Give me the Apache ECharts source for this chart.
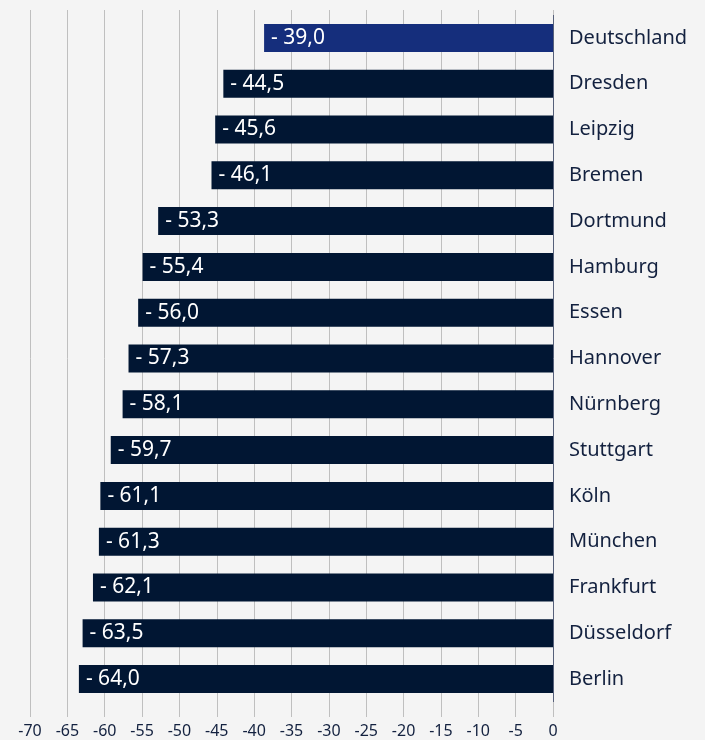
<!DOCTYPE html>
<html>
<head>
<meta charset="utf-8">
<script src="https://cdn.jsdelivr.net/npm/echarts@6/dist/echarts.min.js"></script>
<style>
  html, body { margin: 0; padding: 0; background: #f4f4f4; }
  #chart { width: 705px; height: 740px; }
</style>
</head>
<body>
<div id="chart"></div>
<script>
// data
var cities = ['Deutschland', 'Dresden', 'Leipzig', 'Bremen', 'Dortmund', 'Hamburg', 'Essen', 'Hannover',
  'Nürnberg', 'Stuttgart', 'Köln', 'München', 'Frankfurt', 'Düsseldorf', 'Berlin'];
var values = [-39.0, -44.5, -45.6, -46.1, -53.3, -55.4, -56.0, -57.3, -58.1, -59.7, -61.1, -61.3, -62.1, -63.5, -64.0];
var xMin = -70;
var xMax = 0;
var xStep = 5;
// the bars in the original run on a slightly compressed scale vs. the gridlines
var barMin = -70.6;

var navy = '#011633';
var gridGrey = '#bfbfbf';
var textColor = '#13213f';
var font = '"Noto Sans", sans-serif';

function fmtValue(v) {
  return '- ' + Math.abs(v).toFixed(1).replace('.', ',');
}

var chart = echarts.init(document.getElementById('chart'));

var barData = values.map(function (v, i) {
  return {
    value: v,
    itemStyle: { color: i === 0 ? '#152e7c' : navy }
  };
});

var option = {
  backgroundColor: '#f4f4f4',
  animation: false,
  textStyle: { fontFamily: font },
  grid: { left: 30, right: 152, top: 15, bottom: 38 },
  xAxis: [
    {
      type: 'value',
      position: 'bottom',
      min: xMin, max: xMax, interval: xStep,
      axisLine: { show: false },
      axisTick: { show: true, length: 15, lineStyle: { color: gridGrey } },
      splitLine: { show: true, lineStyle: { color: gridGrey, width: 1 } },
      axisLabel: { color: textColor, fontSize: 16, margin: 21, fontFamily: font }
    },
    {
      type: 'value',
      position: 'top',
      min: xMin, max: xMax, interval: xStep,
      axisLine: { show: false },
      axisTick: { show: true, length: 5, lineStyle: { color: gridGrey } },
      splitLine: { show: false },
      axisLabel: { show: false }
    },
    {
      type: 'value',
      position: 'bottom',
      min: barMin, max: xMax,
      show: false
    }
  ],
  yAxis: {
    type: 'category',
    data: cities,
    inverse: true,
    position: 'right',
    axisLine: { show: true, lineStyle: { color: '#56607a' } },
    axisTick: { show: false },
    axisLabel: {
      color: textColor, fontSize: 20, margin: 16, align: 'left', fontFamily: font
    }
  },
  series: [{
    type: 'bar',
    data: barData,
    barWidth: 28,
    xAxisIndex: 2,
    label: {
      show: true,
      position: 'insideLeft',
      distance: 7,
      color: '#ffffff',
      fontSize: 21,
      fontFamily: font,
      formatter: function (p) { return fmtValue(p.value); }
    }
  }]
};

chart.setOption(option);
</script>
</body>
</html>
